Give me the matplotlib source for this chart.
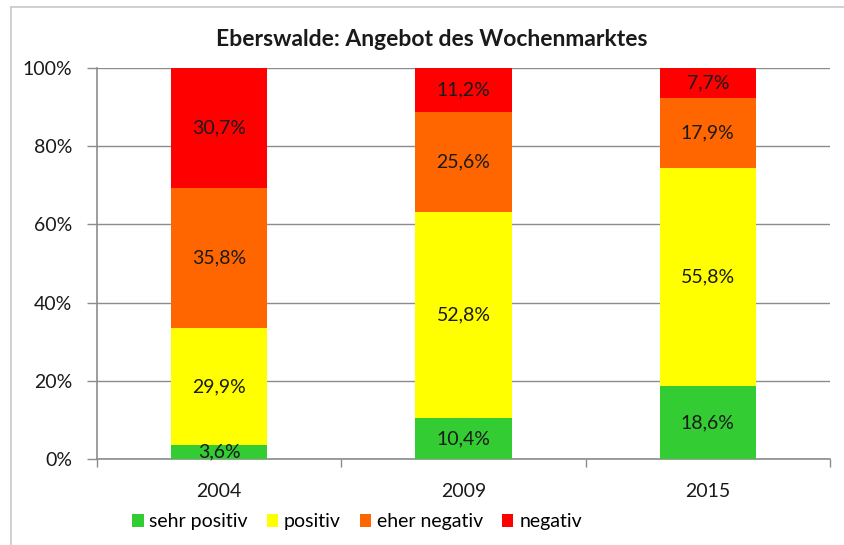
import matplotlib
matplotlib.use("Agg")
import matplotlib.pyplot as plt
from matplotlib.lines import Line2D
from matplotlib.patches import Patch
import numpy as np

plt.rcParams['font.family'] = ['Lato', 'DejaVu Sans']

years = ["2004", "2009", "2015"]
series_names = ["sehr positiv", "positiv", "eher negativ", "negativ"]
sehr_positiv = [3.6, 10.4, 18.6]
positiv = [29.9, 52.8, 55.8]
eher_negativ = [35.8, 25.6, 17.9]
negativ = [30.7, 11.2, 7.7]
colors = ["#33CC33", "#FFFF00", "#FF6600", "#FF0000"]
ytick_vals = [0, 20, 40, 60, 80, 100]

series = [sehr_positiv, positiv, eher_negativ, negativ]

fig = plt.figure(figsize=(8.45, 5.45), dpi=100)
ax = fig.add_axes([97/845, 1-459/545, (830-97)/845, (459-68)/545])

x = np.arange(len(years))
bottom = np.zeros(len(years))
handles = []
for vals, col, name in zip(series, colors, series_names):
    v = np.array(vals)
    ax.bar(x, v, bottom=bottom, width=0.395, color=col, edgecolor='none', zorder=3)
    for xi, b, h in zip(x, bottom, v):
        ax.text(xi, b + h/2, f"{h:.1f}%".replace('.', ','), ha='center', va='center',
                fontsize=14, color='#1a1a1a', zorder=4)
    handles.append(Patch(facecolor=col, edgecolor='none', label=name))
    bottom += v

ax.set_xlim(-0.5, 2.5)
ax.set_ylim(0, 100)
ax.set_yticks(ytick_vals)
ax.set_yticklabels([f"{v}%" for v in ytick_vals], fontsize=14, color='#1a1a1a')
ax.yaxis.grid(True, color='#8c8c8c', linewidth=1.0, zorder=0)
ax.set_axisbelow(True)
ax.tick_params(axis='y', length=7, width=1, color='#8c8c8c', pad=11)

ax.set_xticks(x)
ax.set_xticklabels(years, fontsize=14, color='#1a1a1a')
ax.set_xticks([-0.5, 0.5, 1.5, 2.5], minor=True)
ax.tick_params(axis='x', which='major', length=0, pad=17)
ax.tick_params(axis='x', which='minor', length=6, width=1, color='#8c8c8c')

for s in ['top', 'right']:
    ax.spines[s].set_visible(False)
for s in ['left', 'bottom']:
    ax.spines[s].set_color('#8c8c8c')
    ax.spines[s].set_linewidth(1.2)

fig.text(432/845, 1-40/545, "Eberswalde: Angebot des Wochenmarktes", ha='center', va='center',
         fontsize=16.5, fontweight='bold', color='#1a1a1a')

fig.legend(handles=handles, loc='center', bbox_to_anchor=(357/845, 1-522/545), ncol=4,
           frameon=False, fontsize=14, handlelength=0.6, handleheight=0.6,
           handletextpad=0.3, columnspacing=0.95)

# outer frame (left and top visible)
fig.add_artist(Line2D([11/845, 11/845], [0, 1-7/545], transform=fig.transFigure, color='#c8c8c8', lw=1.2))
fig.add_artist(Line2D([11/845, 1], [1-7/545, 1-7/545], transform=fig.transFigure, color='#c8c8c8', lw=1.2))

fig.savefig("out.png", dpi=100, facecolor='white')
